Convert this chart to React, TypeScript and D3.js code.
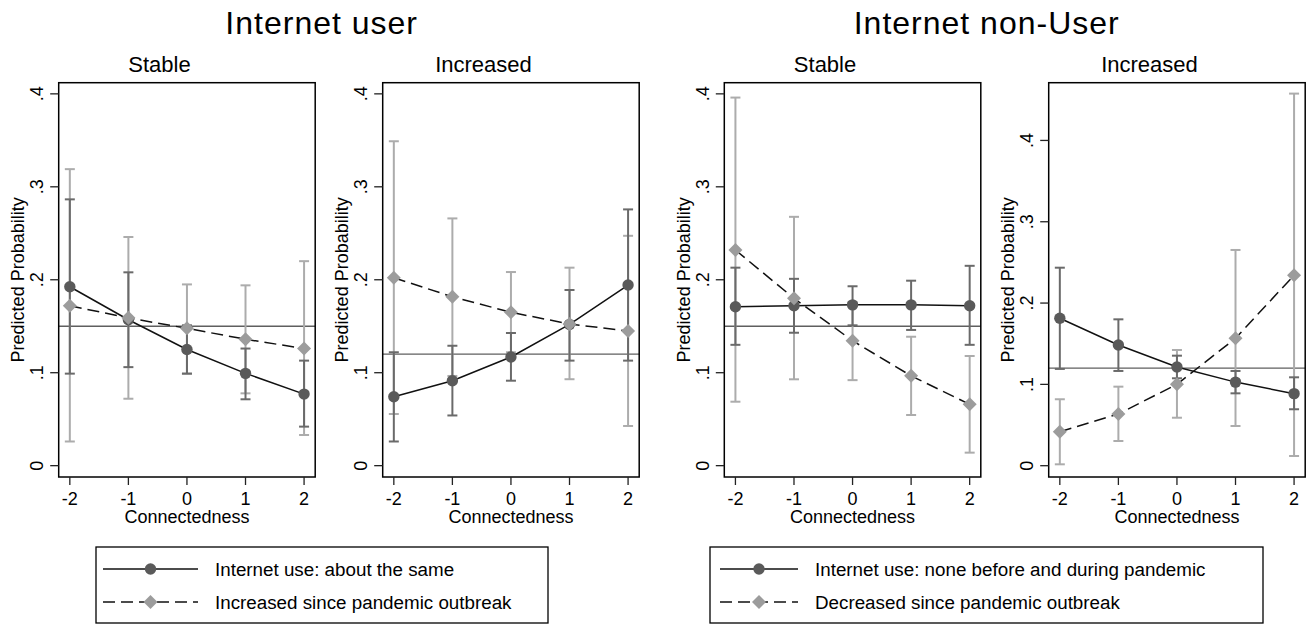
import React from "react";
import * as d3 from "d3";

// ---------- data ----------
const connectedness = [-2, -1, 0, 1, 2];
const yTickValues = [0, 0.1, 0.2, 0.3, 0.4];
const yTickLabels = ["0", ".1", ".2", ".3", ".4"];
const groupTitles = ["Internet user", "Internet non-User"];
const panelTitles = ["Stable", "Increased", "Stable", "Increased"];
const referenceLines = [0.15, 0.12, 0.15, 0.12];
const legendUser = ["Internet use: about the same", "Increased since pandemic outbreak"];
const legendNonUser = ["Internet use: none before and during pandemic", "Decreased since pandemic outbreak"];

// Internet user, Stable
const userStableSame = [0.1925, 0.157, 0.125, 0.0993, 0.077];
const userStableSameLo = [0.099, 0.106, 0.099, 0.0714, 0.042];
const userStableSameHi = [0.2865, 0.208, 0.151, 0.126, 0.113];
const userStableInc = [0.172, 0.159, 0.1477, 0.136, 0.126];
const userStableIncLo = [0.026, 0.072, 0.099, 0.0778, 0.033];
const userStableIncHi = [0.319, 0.246, 0.195, 0.194, 0.22];

// Internet user, Increased
const userIncSame = [0.0742, 0.0914, 0.1169, 0.152, 0.1943];
const userIncSameLo = [0.026, 0.054, 0.0914, 0.113, 0.113];
const userIncSameHi = [0.122, 0.129, 0.1427, 0.189, 0.2757];
const userIncInc = [0.2022, 0.1817, 0.165, 0.1524, 0.1448];
const userIncIncLo = [0.0556, 0.0965, 0.122, 0.093, 0.0427];
const userIncIncHi = [0.349, 0.266, 0.2083, 0.213, 0.2473];

// Internet non-user, Stable
const nonStableNone = [0.171, 0.172, 0.173, 0.173, 0.172];
const nonStableNoneLo = [0.13, 0.143, 0.151, 0.146, 0.13];
const nonStableNoneHi = [0.213, 0.201, 0.193, 0.199, 0.215];
const nonStableDec = [0.232, 0.18, 0.1344, 0.0966, 0.066];
const nonStableDecLo = [0.0688, 0.0929, 0.092, 0.0545, 0.014];
const nonStableDecHi = [0.396, 0.2677, 0.176, 0.1387, 0.118];

// Internet non-user, Increased
const nonIncNone = [0.1813, 0.1485, 0.1214, 0.1028, 0.0886];
const nonIncNoneLo = [0.119, 0.1165, 0.1075, 0.089, 0.0694];
const nonIncNoneHi = [0.2435, 0.18, 0.1353, 0.1165, 0.1087];
const nonIncDec = [0.0418, 0.0636, 0.1001, 0.1567, 0.2342];
const nonIncDecLo = [0.0017, 0.0304, 0.059, 0.0488, 0.0119];
const nonIncDecHi = [0.0817, 0.0972, 0.1423, 0.2653, 0.4576];

// ---------- layout / style ----------
const W = 1309;
const H = 627;
const FONT = "'Liberation Sans', Arial, Helvetica, sans-serif";
const boxLefts = [58.7, 382.7, 724.3, 1048.7];
const boxW = 256.5;
const boxTop = 82.7;
const boxBottom = 477;
const yDomains: [number, number][] = [
  [-0.0122, 0.412],
  [-0.0122, 0.412],
  [-0.0122, 0.412],
  [-0.0139, 0.471],
];
const DARK_MARK = "#5a5a5a";
const LIGHT_MARK = "#9c9c9c";
const DARK_CI = "#6a6a6a";
const LIGHT_CI = "#acacac";
const DASH = "12,6";

type Series = { v: number[]; lo: number[]; hi: number[] };
const panelSeries: { a: Series; b: Series }[] = [
  { a: { v: userStableSame, lo: userStableSameLo, hi: userStableSameHi }, b: { v: userStableInc, lo: userStableIncLo, hi: userStableIncHi } },
  { a: { v: userIncSame, lo: userIncSameLo, hi: userIncSameHi }, b: { v: userIncInc, lo: userIncIncLo, hi: userIncIncHi } },
  { a: { v: nonStableNone, lo: nonStableNoneLo, hi: nonStableNoneHi }, b: { v: nonStableDec, lo: nonStableDecLo, hi: nonStableDecHi } },
  { a: { v: nonIncNone, lo: nonIncNoneLo, hi: nonIncNoneHi }, b: { v: nonIncDec, lo: nonIncDecLo, hi: nonIncDecHi } },
];

const diamondPath = (cx: number, cy: number, r: number) =>
  `M${cx},${cy - r}L${cx + r},${cy}L${cx},${cy + r}L${cx - r},${cy}Z`;

function Panel({ idx }: { idx: number }) {
  const left = boxLefts[idx];
  const right = left + boxW;
  const x = d3.scaleLinear().domain([-2.19, 2.19]).range([left, right]);
  const y = d3.scaleLinear().domain(yDomains[idx]).range([boxBottom, boxTop]);
  const { a, b } = panelSeries[idx];
  const line = (vals: number[]) =>
    d3.line<number>().x((_, i) => x(connectedness[i])).y((d) => y(d))(vals) || "";
  const capHalf = 5;
  const ciBars = (s: Series, color: string) =>
    connectedness.map((c, i) => {
      const cx = x(c);
      return (
        <g key={i} stroke={color} strokeWidth={2} fill="none">
          <line x1={cx} x2={cx} y1={y(s.lo[i])} y2={y(s.hi[i])} />
          <line x1={cx - capHalf} x2={cx + capHalf} y1={y(s.lo[i])} y2={y(s.lo[i])} />
          <line x1={cx - capHalf} x2={cx + capHalf} y1={y(s.hi[i])} y2={y(s.hi[i])} />
        </g>
      );
    });
  const midY = (boxTop + boxBottom) / 2;
  return (
    <g>
      <text x={(left + right) / 2 - 27.5} y={71.5} textAnchor="middle" fontSize={22} fontFamily={FONT}>
        {panelTitles[idx]}
      </text>
      <line x1={left} x2={right} y1={y(referenceLines[idx])} y2={y(referenceLines[idx])} stroke="#5f5f5f" strokeWidth={1.4} />
      {ciBars(b, LIGHT_CI)}
      {ciBars(a, DARK_CI)}
      <path d={line(a.v)} fill="none" stroke="#111" strokeWidth={1.5} />
      <path d={line(b.v)} fill="none" stroke="#111" strokeWidth={1.5} strokeDasharray={DASH} />
      {a.v.map((v, i) => (
        <circle key={"c" + i} cx={x(connectedness[i])} cy={y(v)} r={5.7} fill={DARK_MARK} />
      ))}
      {b.v.map((v, i) => (
        <path key={"d" + i} d={diamondPath(x(connectedness[i]), y(v), 7)} fill={LIGHT_MARK} />
      ))}
      <rect x={left} y={boxTop} width={boxW} height={boxBottom - boxTop} fill="none" stroke="#000" strokeWidth={1.5} />
      {yTickValues.map((t, i) => (
        <g key={"yt" + i}>
          <line x1={left - 8.5} x2={left} y1={y(t)} y2={y(t)} stroke="#222" strokeWidth={1.3} />
          <text
            transform={`translate(${left - 15.5},${y(t)}) rotate(-90)`}
            textAnchor="middle"
            fontSize={18}
            fontFamily={FONT}
          >
            {yTickLabels[i]}
          </text>
        </g>
      ))}
      <text transform={`translate(${left - 34.5},${midY}) rotate(-90)`} textAnchor="middle" fontSize={18} fontFamily={FONT}>
        Predicted Probability
      </text>
      {connectedness.map((c) => (
        <g key={"xt" + c}>
          <line x1={x(c)} x2={x(c)} y1={boxBottom} y2={boxBottom + 8} stroke="#222" strokeWidth={1.3} />
          <text x={x(c)} y={505} textAnchor="middle" fontSize={18} fontFamily={FONT}>
            {c}
          </text>
        </g>
      ))}
      <text x={(left + right) / 2} y={523} textAnchor="middle" fontSize={18} fontFamily={FONT}>
        Connectedness
      </text>
    </g>
  );
}

function Legend({ x0, x1, keyL, keyR, textX, labels }: { x0: number; x1: number; keyL: number; keyR: number; textX: number; labels: string[] }) {
  const top = 547;
  const bottom = 623;
  const rows = [569, 602];
  const keyMid = (keyL + keyR) / 2;
  return (
    <g>
      <rect x={x0} y={top} width={x1 - x0} height={bottom - top} fill="#fff" stroke="#000" strokeWidth={1.3} />
      <line x1={keyL} x2={keyR} y1={rows[0]} y2={rows[0]} stroke="#111" strokeWidth={1.5} />
      <circle cx={keyMid} cy={rows[0]} r={5.7} fill={DARK_MARK} />
      <line x1={keyL} x2={keyR} y1={rows[1]} y2={rows[1]} stroke="#111" strokeWidth={1.5} strokeDasharray={DASH} />
      <path d={diamondPath(keyMid, rows[1], 7)} fill={LIGHT_MARK} />
      {labels.map((l, i) => (
        <text key={i} x={textX} y={rows[i]} dy="0.35em" fontSize={18.8} fontFamily={FONT}>
          {l}
        </text>
      ))}
    </g>
  );
}

export default function App() {
  return (
    <svg width={W} height={H} style={{ position: "absolute", left: 0, top: 0, display: "block", background: "#fff" }}>
      <rect x={0} y={0} width={W} height={H} fill="#fff" />
      <text x={321.7} y={33.5} textAnchor="middle" fontSize={32} letterSpacing={1} fontFamily={FONT}>
        {groupTitles[0]}
      </text>
      <text x={986.7} y={33.5} textAnchor="middle" fontSize={32} letterSpacing={1} fontFamily={FONT}>
        {groupTitles[1]}
      </text>
      {[0, 1, 2, 3].map((i) => (
        <Panel key={i} idx={i} />
      ))}
      <Legend x0={96} x1={548} keyL={103} keyR={198} textX={215} labels={legendUser} />
      <Legend x0={710} x1={1263} keyL={720} keyR={798} textX={815} labels={legendNonUser} />
    </svg>
  );
}
